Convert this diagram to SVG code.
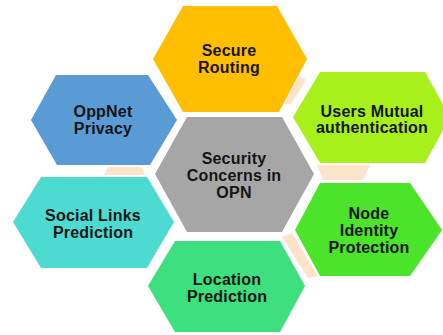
<svg xmlns="http://www.w3.org/2000/svg" width="443" height="335" viewBox="0 0 443 335">
  <style>
    .hex { stroke: none; }
    .link { fill: #fde3c9; }
    .label { font-family: "Liberation Sans", Arial, sans-serif; font-weight: bold; font-size: 16px; fill: #151515; text-anchor: middle; letter-spacing: 0.2px; }
  </style>
  <rect width="443" height="335" fill="#ffffff"/>

  <!-- peach joints between neighbouring hexagons -->
  <g id="connectors">
    <polygon class="link" points="299,76 306,80 291,104 284,104"/>
    <polygon class="link" points="108,167 141,167 145,175 104,175"/>
    <polygon class="link" points="317,165 370,165 363,180 323,180"/>
    <polygon class="link" points="282,237 292,233 318,276 308,278"/>
  </g>

  <g id="secure-routing">
    <polygon class="hex" fill="#ffbf00" points="153,59 183,6 277,6 307,59 279,112 183,112"/>
    <text class="label" x="229" y="56">Secure</text>
    <text class="label" x="229" y="73">Routing</text>
  </g>

  <g id="oppnet-privacy">
    <polygon class="hex" fill="#5b9bd5" points="31,120 56,75 148,75 177,120 150,165 57,165"/>
    <text class="label" x="103" y="117">OppNet</text>
    <text class="label" x="103" y="134">Privacy</text>
  </g>

  <g id="users-mutual-authentication">
    <polygon class="hex" fill="#a8f01c" points="293,117 320,72 425,72 450,117 425,163 320,163"/>
    <text class="label" x="372" y="117">Users Mutual</text>
    <text class="label" x="372" y="133">authentication</text>
  </g>

  <g id="security-concerns">
    <polygon class="hex" fill="#a6a6a6" points="155,174 187,117 282,117 314,174 282,232 187,232"/>
    <text class="label" x="234" y="164">Security</text>
    <text class="label" x="234" y="181">Concerns in</text>
    <text class="label" x="234" y="198">OPN</text>
  </g>

  <g id="social-links-prediction">
    <polygon class="hex" fill="#4ddbd1" points="13,222 41,177 147,177 174,222 147,268 41,268"/>
    <text class="label" x="93" y="221">Social Links</text>
    <text class="label" x="93" y="238">Prediction</text>
  </g>

  <g id="node-identity-protection">
    <polygon class="hex" fill="#4be42b" points="295,230 320,183 410,183 442,230 410,276 320,276"/>
    <text class="label" x="369" y="219">Node</text>
    <text class="label" x="369" y="236">Identity</text>
    <text class="label" x="369" y="253">Protection</text>
  </g>

  <g id="location-prediction">
    <polygon class="hex" fill="#3ddf7f" points="148,286 175,241 280,241 305,286 280,332 175,332"/>
    <text class="label" x="227" y="285">Location</text>
    <text class="label" x="227" y="302">Prediction</text>
  </g>
</svg>
